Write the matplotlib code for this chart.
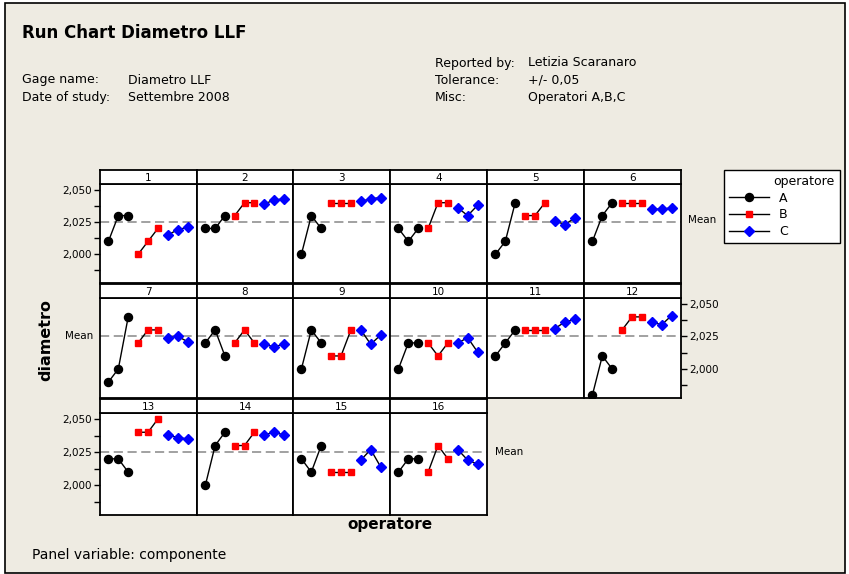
import matplotlib
matplotlib.use('Agg')
from matplotlib import pyplot as plt
from matplotlib.patches import Rectangle
import numpy as np

# diametro readings, one list of 3 per componente (panel 1..16)
opA = [[2.010, 2.030, 2.030], [2.020, 2.020, 2.030], [2.000, 2.030, 2.020], [2.020, 2.010, 2.020],
       [2.000, 2.010, 2.040], [2.010, 2.030, 2.040], [1.990, 2.000, 2.040], [2.020, 2.030, 2.010],
       [2.000, 2.030, 2.020], [2.000, 2.020, 2.020], [2.010, 2.020, 2.030], [1.980, 2.010, 2.000],
       [2.020, 2.020, 2.010], [2.000, 2.030, 2.040], [2.020, 2.010, 2.030], [2.010, 2.020, 2.020]]
opB = [[2.000, 2.010, 2.020], [2.030, 2.040, 2.040], [2.040, 2.040, 2.040], [2.020, 2.040, 2.040],
       [2.030, 2.030, 2.040], [2.040, 2.040, 2.040], [2.020, 2.030, 2.030], [2.020, 2.030, 2.020],
       [2.010, 2.010, 2.030], [2.020, 2.010, 2.020], [2.030, 2.030, 2.030], [2.030, 2.040, 2.040],
       [2.040, 2.040, 2.050], [2.030, 2.030, 2.040], [2.010, 2.010, 2.010], [2.010, 2.030, 2.020]]
opC = [[2.015, 2.019, 2.021], [2.039, 2.042, 2.043], [2.041, 2.043, 2.044], [2.036, 2.030, 2.038],
       [2.026, 2.023, 2.028], [2.035, 2.035, 2.036], [2.024, 2.025, 2.021], [2.019, 2.017, 2.019],
       [2.030, 2.019, 2.026], [2.020, 2.024, 2.013], [2.031, 2.036, 2.038], [2.036, 2.034, 2.041],
       [2.038, 2.036, 2.035], [2.038, 2.040, 2.038], [2.019, 2.027, 2.014], [2.027, 2.019, 2.016]]
yticks = [2.000, 2.025, 2.050]
ytick_labels = ['2,000', '2,025', '2,050']

W, H = 849, 574
bg = '#EEEBE2'
fig = plt.figure(figsize=(W / 100, H / 100), dpi=100, facecolor='white')
fig.patches.append(Rectangle((5 / W, 1 / H), 840 / W, 570 / H, transform=fig.transFigure,
                             facecolor=bg, edgecolor='black', linewidth=1.2, zorder=-5))

meanval = np.mean(np.concatenate([opA, opB, opC]))

colx = [100, 197, 293, 390, 487, 584, 681]
rows = [(170, 184, 283), (284, 298, 398), (399, 413, 515)]
ylo, yhi = 1.9777, 2.0545

def fx(px):
    return px / W

def fy(py):
    return 1 - py / H

lines = None
for k in range(16):
    r, c = divmod(k, 6)
    st, top, bot = rows[r]
    x0, x1 = colx[c], colx[c + 1]
    ax = fig.add_axes([fx(x0), fy(bot), fx(x1 - x0), (bot - top) / H])
    ax.set_facecolor('white')
    hA, = ax.plot([1, 2, 3], opA[k], color='black', lw=1, marker='o', ms=5.8, mfc='black', mec='black')
    hB, = ax.plot([4, 5, 6], opB[k], color='black', lw=1, marker='s', ms=4.8, mfc='red', mec='red')
    hC, = ax.plot([7, 8, 9], opC[k], color='black', lw=1, marker='D', ms=5, mfc='blue', mec='blue')
    if lines is None:
        lines = [hA, hB, hC]
    ax.axhline(meanval, color='#888888', ls=(0, (6, 3)), lw=1.1, zorder=0)
    ax.set_xlim(0.15, 9.95)
    ax.set_ylim(ylo, yhi)
    ax.set_xticks([])
    for s in ax.spines.values():
        s.set_linewidth(1.3)
    ax.set_yticks(yticks)
    ax.set_yticks([1.9875, 2.0125, 2.0375], minor=True)
    ax.tick_params(axis='y', which='both', direction='out', length=4, width=1, labelsize=7.5, pad=2)
    if (r in (0, 2)) and c == 0:
        ax.set_yticklabels(ytick_labels)
    elif r == 1 and c == 5:
        ax.yaxis.tick_right()
        ax.set_yticklabels(ytick_labels)
    else:
        ax.tick_params(axis='y', which='both', left=False, right=False, labelleft=False)

    sx = fig.add_axes([fx(x0), fy(top), fx(x1 - x0), (top - st) / H])
    sx.set_facecolor('white')
    sx.set_xticks([])
    sx.set_yticks([])
    for s in sx.spines.values():
        s.set_linewidth(1.3)
    sx.text(0.5, 0.45, str(k + 1), ha='center', va='center', fontsize=7.5, transform=sx.transAxes)

# Mean labels
fig.text(fx(688), fy(220), 'Mean', fontsize=7.5, va='center', ha='left')
fig.text(fx(93), fy(336), 'Mean', fontsize=7.5, va='center', ha='right')
fig.text(fx(495), fy(452), 'Mean', fontsize=7.5, va='center', ha='left')

# header
fig.text(fx(22), fy(33), 'Run Chart Diametro LLF', fontsize=12, fontweight='bold', va='center', ha='left')
fig.text(fx(22), fy(80), 'Gage name:', fontsize=9, va='center')
fig.text(fx(128), fy(80), 'Diametro LLF', fontsize=9, va='center')
fig.text(fx(22), fy(97), 'Date of study:', fontsize=9, va='center')
fig.text(fx(128), fy(97), 'Settembre 2008', fontsize=9, va='center')
fig.text(fx(435), fy(63), 'Reported by:', fontsize=9, va='center')
fig.text(fx(528), fy(63), 'Letizia Scaranaro', fontsize=9, va='center')
fig.text(fx(435), fy(80), 'Tolerance:', fontsize=9, va='center')
fig.text(fx(528), fy(80), '+/- 0,05', fontsize=9, va='center')
fig.text(fx(435), fy(97), 'Misc:', fontsize=9, va='center')
fig.text(fx(528), fy(97), 'Operatori A,B,C', fontsize=9, va='center')

fig.text(fx(46), fy(340), 'diametro', fontsize=11.5, fontweight='bold', rotation=90, va='center', ha='center')
fig.text(fx(390), fy(524), 'operatore', fontsize=11, fontweight='bold', va='center', ha='center')
fig.text(fx(32), fy(555), 'Panel variable: componente', fontsize=10, va='center', ha='left')

leg = fig.legend(lines, ['A', 'B', 'C'], title='operatore', loc='upper left',
                 bbox_to_anchor=(fx(724), fy(246), fx(116), 76 / H), mode='expand',
                 borderaxespad=0, frameon=True, fancybox=False,
                 edgecolor='black', facecolor='white', framealpha=1, fontsize=9,
                 title_fontsize=9, handlelength=3.2, labelspacing=0.3,
                 borderpad=0.4, alignment='right')
leg.get_frame().set_linewidth(1.0)

fig.savefig('out.png', dpi=100, facecolor=fig.get_facecolor())
